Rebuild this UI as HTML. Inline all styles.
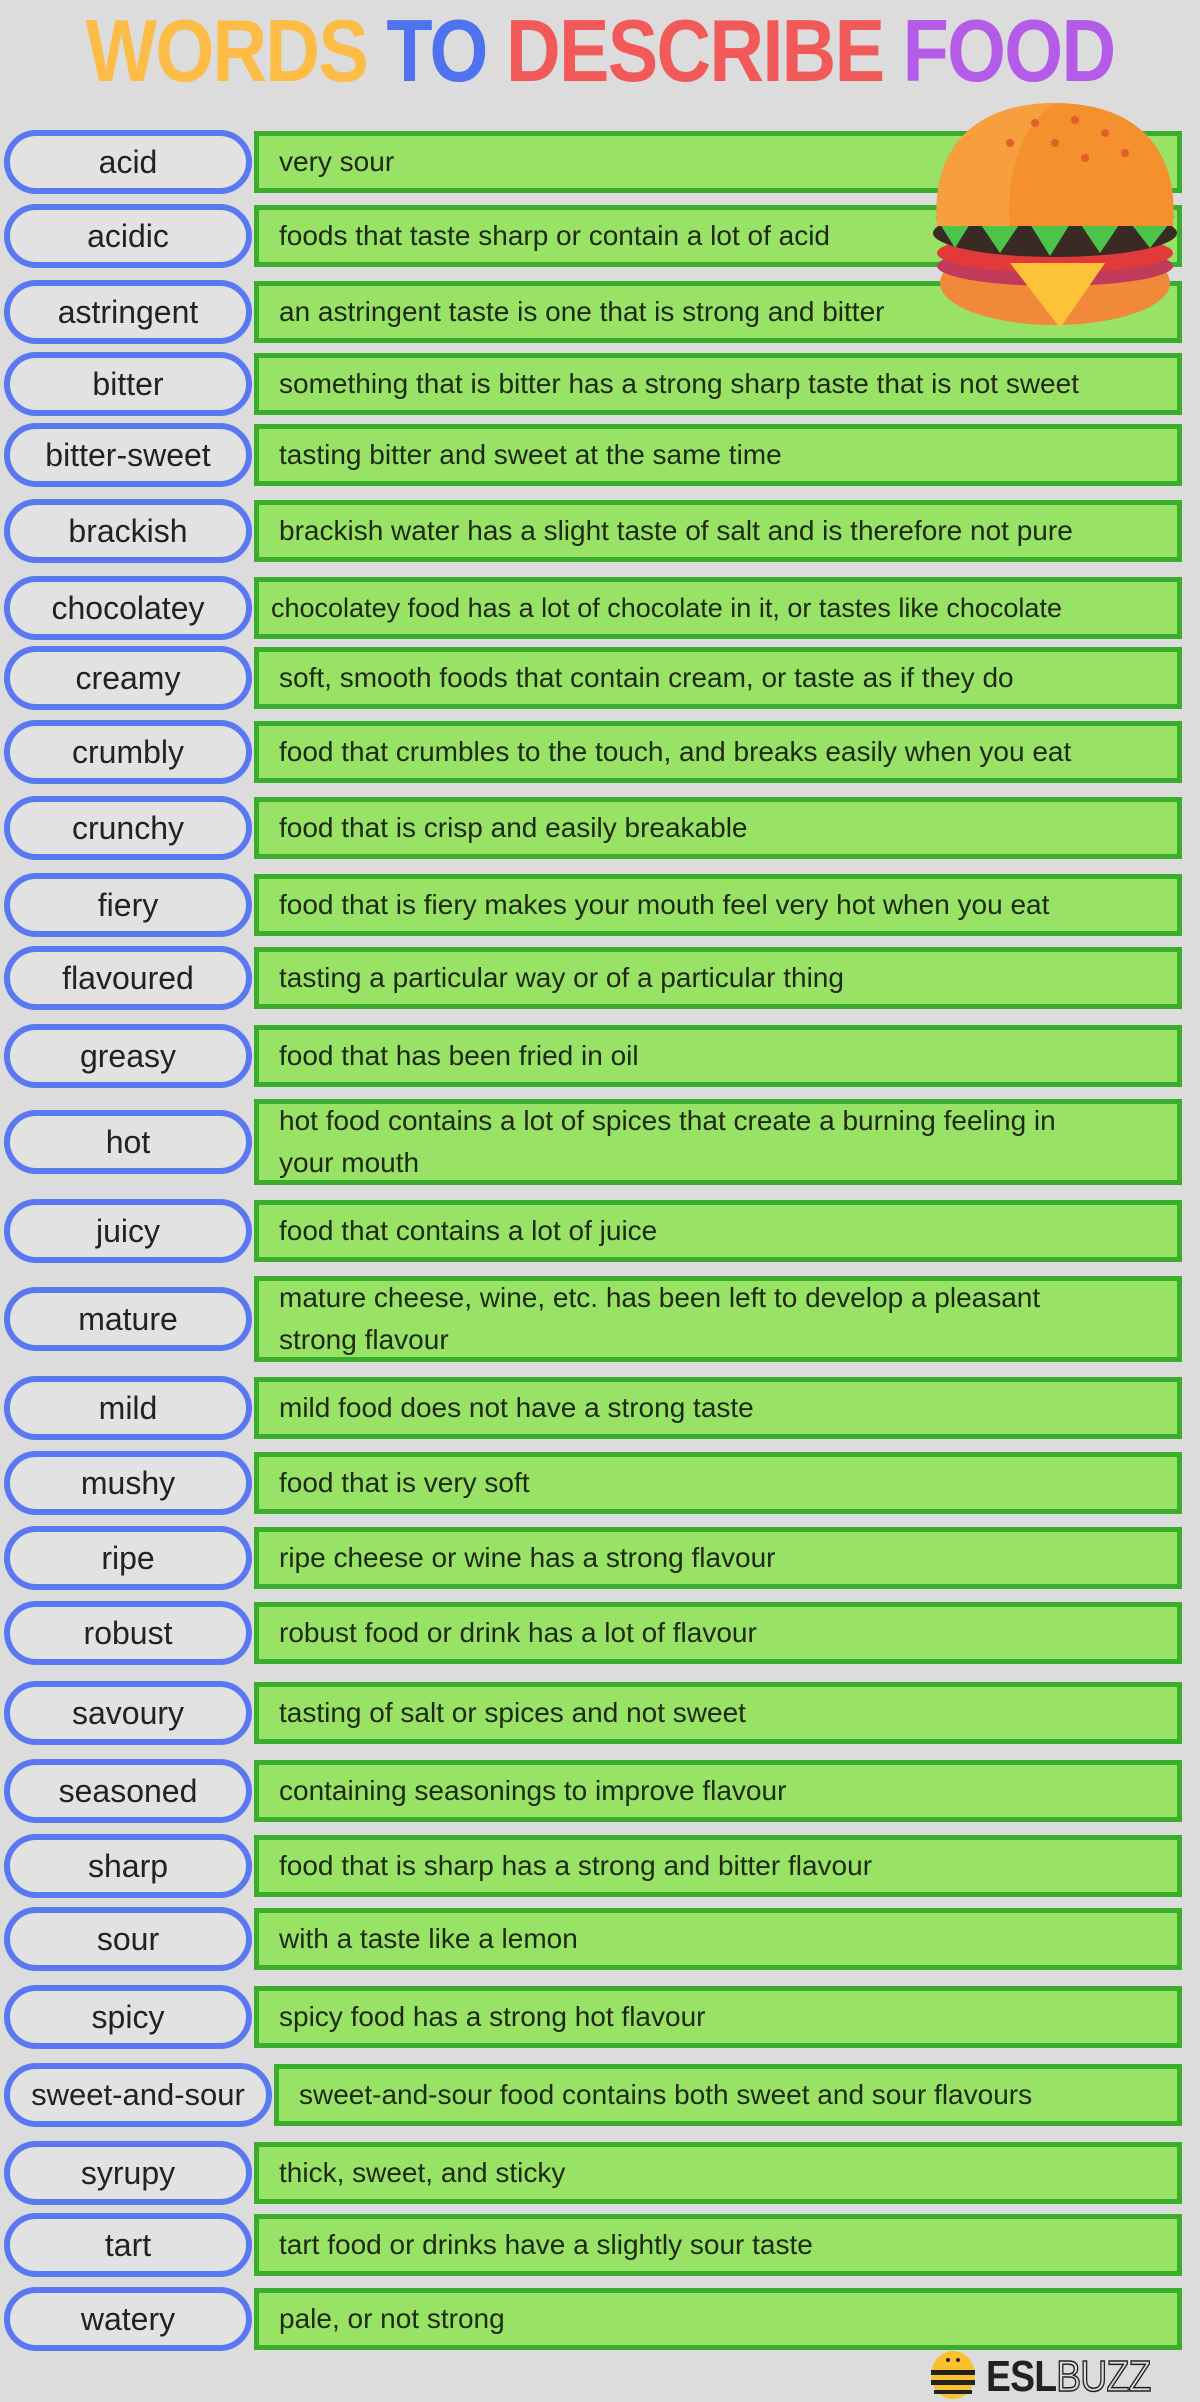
<!DOCTYPE html>
<html><head><meta charset="utf-8"><style>
*{margin:0;padding:0;box-sizing:border-box}
body{width:1200px;height:2400px;background:#dcdcdc;position:relative;overflow:hidden;font-family:"Liberation Sans",sans-serif;color:#222}
h1{position:absolute;top:0px;left:0;width:1200px;text-align:center;font-size:88px;font-weight:bold;letter-spacing:-2px;transform:scaleX(0.86);white-space:nowrap}
.y{color:#fcbc45}.b{color:#4f72f0}.r{color:#f25a5a}.p{color:#b45ce8}
.w{position:absolute;left:4px;width:248px;height:64px;border:6px solid #5a78f0;border-radius:32px;background:#e2e2e2;display:flex;align-items:center;justify-content:center;font-size:32px;color:#222}
.d{position:absolute;left:254px;width:928px;height:62px;border:5px solid #3aae2c;background:#98e266;display:flex;align-items:center;padding-left:20px;font-size:28px;color:#1e2a10;line-height:42px}
.t{height:86px;padding-right:110px}
</style></head><body>
<h1><span class="y">WORDS</span> <span class="b">TO</span> <span class="r">DESCRIBE</span> <span class="p">FOOD</span></h1>

<div class="w" style="top:130px">acid</div><div class="d" style="top:131px">very sour</div>
<div class="w" style="top:204px">acidic</div><div class="d" style="top:205px">foods that taste sharp or contain a lot of acid</div>
<div class="w" style="top:280px">astringent</div><div class="d" style="top:281px">an astringent taste is one that is strong and bitter</div>
<div class="w" style="top:352px">bitter</div><div class="d" style="top:353px">something that is bitter has a strong sharp taste that is not sweet</div>
<div class="w" style="top:423px">bitter-sweet</div><div class="d" style="top:424px">tasting bitter and sweet at the same time</div>
<div class="w" style="top:499px">brackish</div><div class="d" style="top:500px">brackish water has a slight taste of salt and is therefore not pure</div>
<div class="w" style="top:576px">chocolatey</div><div class="d" style="top:577px;font-size:27px;padding-left:12px">chocolatey food has a lot of chocolate in it, or tastes like chocolate</div>
<div class="w" style="top:646px">creamy</div><div class="d" style="top:647px">soft, smooth foods that contain cream, or taste as if they do</div>
<div class="w" style="top:720px">crumbly</div><div class="d" style="top:721px">food that crumbles to the touch, and breaks easily when you eat</div>
<div class="w" style="top:796px">crunchy</div><div class="d" style="top:797px">food that is crisp and easily breakable</div>
<div class="w" style="top:873px">fiery</div><div class="d" style="top:874px">food that is fiery makes your mouth feel very hot when you eat</div>
<div class="w" style="top:946px">flavoured</div><div class="d" style="top:947px">tasting a particular way or of a particular thing</div>
<div class="w" style="top:1024px">greasy</div><div class="d" style="top:1025px">food that has been fried in oil</div>
<div class="w" style="top:1110px">hot</div><div class="d t" style="top:1099px">hot food contains a lot of spices that create a burning feeling in your mouth</div>
<div class="w" style="top:1199px">juicy</div><div class="d" style="top:1200px">food that contains a lot of juice</div>
<div class="w" style="top:1287px">mature</div><div class="d t" style="top:1276px">mature cheese, wine, etc. has been left to develop a pleasant strong flavour</div>
<div class="w" style="top:1376px">mild</div><div class="d" style="top:1377px">mild food does not have a strong taste</div>
<div class="w" style="top:1451px">mushy</div><div class="d" style="top:1452px">food that is very soft</div>
<div class="w" style="top:1526px">ripe</div><div class="d" style="top:1527px">ripe cheese or wine has a strong flavour</div>
<div class="w" style="top:1601px">robust</div><div class="d" style="top:1602px">robust food or drink has a lot of flavour</div>
<div class="w" style="top:1681px">savoury</div><div class="d" style="top:1682px">tasting of salt or spices and not sweet</div>
<div class="w" style="top:1759px">seasoned</div><div class="d" style="top:1760px">containing seasonings to improve flavour</div>
<div class="w" style="top:1834px">sharp</div><div class="d" style="top:1835px">food that is sharp has a strong and bitter flavour</div>
<div class="w" style="top:1907px">sour</div><div class="d" style="top:1908px">with a taste like a lemon</div>
<div class="w" style="top:1985px">spicy</div><div class="d" style="top:1986px">spicy food has a strong hot flavour</div>
<div class="w" style="top:2063px;width:268px;font-size:31px">sweet-and-sour</div><div class="d" style="top:2064px;left:274px;width:908px">sweet-and-sour food contains both sweet and sour flavours</div>
<div class="w" style="top:2141px">syrupy</div><div class="d" style="top:2142px">thick, sweet, and sticky</div>
<div class="w" style="top:2213px">tart</div><div class="d" style="top:2214px">tart food or drinks have a slightly sour taste</div>
<div class="w" style="top:2287px">watery</div><div class="d" style="top:2288px">pale, or not strong</div>

<svg style="position:absolute;left:925px;top:98px" width="260" height="235" viewBox="0 0 260 235">
  <ellipse cx="130" cy="185" rx="115" ry="42" fill="#f08a3a"/>
  <ellipse cx="130" cy="168" rx="118" ry="20" fill="#c23a5a"/>
  <ellipse cx="130" cy="155" rx="118" ry="20" fill="#e23a3a"/>
  <ellipse cx="130" cy="135" rx="122" ry="24" fill="#3a2a24"/>
  <polygon points="10,118 30,150 50,118 75,155 100,118 125,158 150,118 175,155 200,118 225,150 250,118" fill="#4cc44a"/>
  <path d="M12,128 C5,40 60,5 130,5 C200,5 255,40 248,128 Z" fill="#f4902e"/>
  <path d="M12,128 C5,40 60,5 130,5 C100,25 80,70 85,128 Z" fill="#f8a848" opacity=".6"/>
  <polygon points="85,165 180,165 135,230" fill="#fbc23a"/>
  <g fill="#e0602a"><circle cx="110" cy="25" r="4"/><circle cx="150" cy="22" r="4"/><circle cx="180" cy="35" r="4"/><circle cx="85" cy="45" r="4"/><circle cx="130" cy="45" r="4"/><circle cx="200" cy="55" r="4"/><circle cx="160" cy="60" r="4"/></g>
</svg>

<svg style="position:absolute;left:928px;top:2350px" width="50" height="50" viewBox="0 0 50 50">
  <ellipse cx="25" cy="25" rx="22" ry="24" fill="#fbc02d"/>
  <rect x="3" y="20" width="44" height="5" fill="#222"/><rect x="3" y="30" width="44" height="5" fill="#222"/><rect x="6" y="40" width="38" height="4" fill="#222"/>
  <circle cx="20" cy="10" r="2" fill="#222"/><circle cx="30" cy="10" r="2" fill="#222"/>
</svg>
<div style="position:absolute;left:986px;top:2352px;font-size:44px;font-weight:bold;letter-spacing:-1px;transform:scaleX(0.85);transform-origin:left;white-space:nowrap;color:#222">ESL<span style="color:#dcdcdc;-webkit-text-stroke:1.5px #222;font-weight:normal">BUZZ</span></div>
</body></html>
